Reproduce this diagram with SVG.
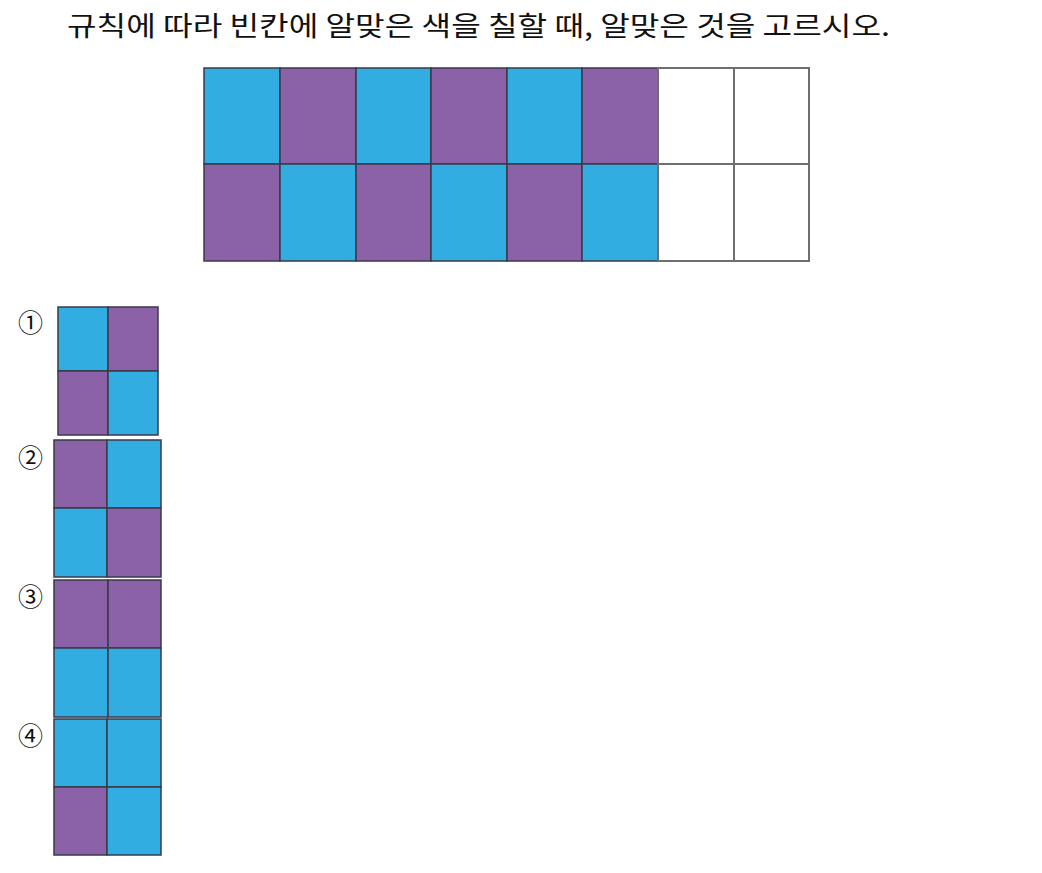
<svg xmlns="http://www.w3.org/2000/svg" width="1042" height="873" viewBox="0 0 1042 873">
<style>
.b{fill:#31ADE2;stroke:#3a3a4a;stroke-width:1.5}
.p{fill:#8B62A8;stroke:#3a3a4a;stroke-width:1.5}
.w{fill:#fff;stroke:#6e6e6e;stroke-width:2}
.t{font-family:"Noto Sans CJK KR","Noto Sans",sans-serif;fill:#111}
.n{font-family:"Noto Sans CJK KR","DejaVu Sans",sans-serif;font-size:25px;fill:#111}
</style>
<rect width="1042" height="873" fill="#fff"/>
<text class="t" x="67" y="36" font-size="27" textLength="823" lengthAdjust="spacingAndGlyphs">규칙에 따라 빈칸에 알맞은 색을 칠할 때, 알맞은 것을 고르시오.</text>
<g id="main-grid">
<rect class="b" x="204" y="68" width="76" height="96"/>
<rect class="p" x="280" y="68" width="76" height="96"/>
<rect class="b" x="356" y="68" width="75" height="96"/>
<rect class="p" x="431" y="68" width="76" height="96"/>
<rect class="b" x="507" y="68" width="75" height="96"/>
<rect class="p" x="582" y="68" width="76" height="96"/>
<rect class="w" x="658" y="68" width="76" height="96"/>
<rect class="w" x="734" y="68" width="75" height="96"/>
<rect class="p" x="204" y="164" width="76" height="97"/>
<rect class="b" x="280" y="164" width="76" height="97"/>
<rect class="p" x="356" y="164" width="75" height="97"/>
<rect class="b" x="431" y="164" width="76" height="97"/>
<rect class="p" x="507" y="164" width="75" height="97"/>
<rect class="b" x="582" y="164" width="76" height="97"/>
<rect class="w" x="658" y="164" width="76" height="97"/>
<rect class="w" x="734" y="164" width="75" height="97"/>
</g>
<g id="option1">
<text class="n" x="18" y="332">①</text>
<rect class="b" x="58" y="307" width="50" height="64"/>
<rect class="p" x="108" y="307" width="50" height="64"/>
<rect class="p" x="58" y="371" width="50" height="64"/>
<rect class="b" x="108" y="371" width="50" height="64"/>
</g>
<g id="option2">
<text class="n" x="18" y="467">②</text>
<rect class="p" x="54" y="440" width="53" height="68"/>
<rect class="b" x="107" y="440" width="54" height="68"/>
<rect class="b" x="54" y="508" width="53" height="69"/>
<rect class="p" x="107" y="508" width="54" height="69"/>
</g>
<g id="option3">
<text class="n" x="18" y="606">③</text>
<rect class="p" x="54" y="580" width="54" height="68"/>
<rect class="p" x="108" y="580" width="53" height="68"/>
<rect class="b" x="54" y="648" width="54" height="69"/>
<rect class="b" x="108" y="648" width="53" height="69"/>
</g>
<g id="option4">
<text class="n" x="18" y="745">④</text>
<rect class="b" x="54" y="719" width="53" height="68"/>
<rect class="b" x="107" y="719" width="54" height="68"/>
<rect class="p" x="54" y="787" width="53" height="68"/>
<rect class="b" x="107" y="787" width="54" height="68"/>
</g>
</svg>
